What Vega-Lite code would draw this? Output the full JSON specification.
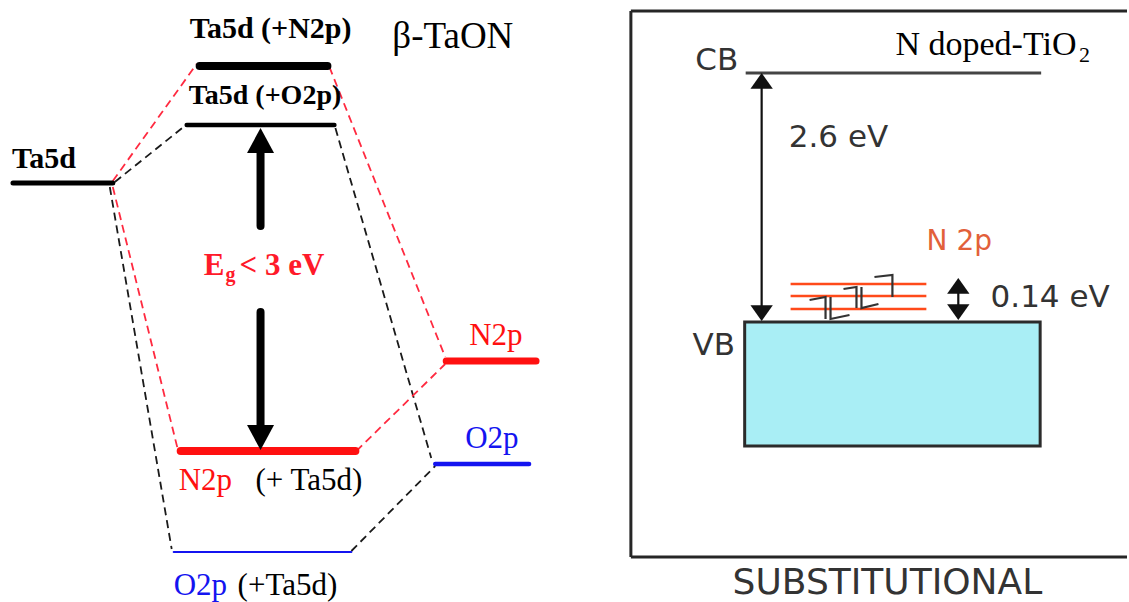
{
  "$schema": "https://vega.github.io/schema/vega-lite/v6.json",
  "width": 1129,
  "height": 602,
  "padding": 0,
  "autosize": {"type": "fit", "contains": "padding"},
  "background": "#ffffff",
  "config": {"view": {"stroke": null}},
  "resolve": {"scale": {"shape": "independent"}},
  "datasets": {
    "levels": [
      {"level": "Ta5d", "species": "Ta5d", "x": 13, "x2": 113, "y": 183},
      {"level": "Ta5d (+N2p)", "species": "Ta5d", "x": 200, "x2": 328, "y": 66},
      {"level": "Ta5d (+O2p)", "species": "Ta5d", "x": 187, "x2": 335, "y": 125},
      {"level": "N2p (+Ta5d)", "species": "N2p", "x": 181, "x2": 356, "y": 451},
      {"level": "O2p (+Ta5d)", "species": "O2p", "x": 174, "x2": 352, "y": 552},
      {"level": "N2p", "species": "N2p", "x": 447, "x2": 537, "y": 361},
      {"level": "O2p", "species": "O2p", "x": 436, "x2": 530, "y": 464}
    ],
    "links": [
      {"species": "N-mix", "x": 113, "y": 181, "x2": 197, "y2": 64},
      {"species": "O-mix", "x": 115, "y": 182, "x2": 185, "y2": 126},
      {"species": "N-mix", "x": 113, "y": 187, "x2": 178, "y2": 449},
      {"species": "O-mix", "x": 110, "y": 187, "x2": 172, "y2": 549},
      {"species": "N-mix", "x": 330, "y": 67, "x2": 446, "y2": 357},
      {"species": "O-mix", "x": 336, "y": 128, "x2": 432, "y2": 458},
      {"species": "N-mix", "x": 357, "y": 451, "x2": 446, "y2": 364},
      {"species": "O-mix", "x": 352, "y": 551, "x2": 436, "y2": 466}
    ],
    "gapShafts": [
      {"x": 261, "y": 226, "y2": 146},
      {"x": 261, "y": 312, "y2": 432}
    ],
    "gapHeads": [
      {"x": 261, "y": 128, "dir": "up"},
      {"x": 261, "y": 450, "dir": "down"}
    ],
    "thinShafts": [
      {"x": 763, "y": 76, "y2": 318},
      {"x": 960, "y": 282, "y2": 316}
    ],
    "thinHeads": [
      {"x": 763, "y": 73, "dir": "up"},
      {"x": 763, "y": 321, "dir": "down"},
      {"x": 960, "y": 278, "dir": "up"},
      {"x": 960, "y": 320, "dir": "down"}
    ],
    "frame": [
      {"x": 632, "y": 11, "x2": 1129, "y2": 11},
      {"x": 632, "y": 11, "x2": 632, "y2": 557},
      {"x": 632, "y": 557, "x2": 1129, "y2": 557}
    ],
    "cb": [{"x": 747, "x2": 1043, "y": 73}],
    "dopant": [
      {"x": 792, "x2": 928, "y": 284},
      {"x": 792, "x2": 928, "y": 296},
      {"x": 792, "x2": 928, "y": 309}
    ],
    "vb": [{"x": 746, "x2": 1042, "y": 322, "y2": 446}],
    "spins": [
      {"seg": "s1", "i": 0, "x": 811, "y": 300},
      {"seg": "s1", "i": 1, "x": 827, "y": 297},
      {"seg": "s1", "i": 2, "x": 827, "y": 319},
      {"seg": "s2", "i": 0, "x": 832, "y": 297},
      {"seg": "s2", "i": 1, "x": 832, "y": 319},
      {"seg": "s2", "i": 2, "x": 851, "y": 315},
      {"seg": "s3", "i": 0, "x": 845, "y": 289},
      {"seg": "s3", "i": 1, "x": 858, "y": 287},
      {"seg": "s3", "i": 2, "x": 858, "y": 308},
      {"seg": "s4", "i": 0, "x": 863, "y": 287},
      {"seg": "s4", "i": 1, "x": 863, "y": 308},
      {"seg": "s4", "i": 2, "x": 880, "y": 304},
      {"seg": "s5", "i": 0, "x": 876, "y": 277},
      {"seg": "s5", "i": 1, "x": 894, "y": 275},
      {"seg": "s5", "i": 2, "x": 894, "y": 297}
    ],
    "serifBold": [
      {"text": "Ta5d (+N2p)", "x": 190, "y": 38, "kind": "level", "species": "Ta5d"},
      {"text": "Ta5d (+O2p)", "x": 189, "y": 104, "kind": "level small", "species": "Ta5d"},
      {"text": "Ta5d", "x": 12, "y": 168, "kind": "level", "species": "Ta5d"},
      {"text": "E", "x": 204, "y": 275, "kind": "gap", "species": "gap"},
      {"text": "g", "x": 226, "y": 281, "kind": "gap sub", "species": "gap"},
      {"text": "< 3 eV", "x": 240, "y": 275, "kind": "gap", "species": "gap"}
    ],
    "serif": [
      {"text": "β-TaON", "x": 393, "y": 48, "kind": "title left", "species": "material"},
      {"text": "N doped-TiO", "x": 897, "y": 55, "kind": "title right", "species": "material"},
      {"text": "2", "x": 1081, "y": 62, "kind": "subscript", "species": "material"},
      {"text": "N2p", "x": 179, "y": 490, "kind": "orbital", "species": "N2p"},
      {"text": "(+ Ta5d)", "x": 256, "y": 490, "kind": "orbital", "species": "Ta5d"},
      {"text": "O2p", "x": 174, "y": 595, "kind": "orbital", "species": "O2p"},
      {"text": "(+Ta5d)", "x": 238, "y": 595, "kind": "orbital", "species": "Ta5d"},
      {"text": "N2p", "x": 470, "y": 345, "kind": "orbital", "species": "N2p"},
      {"text": "O2p", "x": 466, "y": 448, "kind": "orbital", "species": "O2p"}
    ],
    "sans": [
      {"text": "CB", "x": 718, "y": 70, "kind": "band", "species": "band"},
      {"text": "2.6 eV", "x": 840, "y": 147, "kind": "band", "species": "band"},
      {"text": "0.14 eV", "x": 1052, "y": 307, "kind": "band", "species": "band"},
      {"text": "VB", "x": 715, "y": 355, "kind": "band", "species": "band"},
      {"text": "N 2p", "x": 961, "y": 250, "kind": "dopant", "species": "dopant"},
      {"text": "SUBSTITUTIONAL", "x": 889, "y": 594, "kind": "scheme", "species": "band"}
    ]
  },
  "layer": [
    {
      "data": {"name": "frame"},
      "mark": {"type": "rule", "color": "#262626", "strokeWidth": 3},
      "encoding": {
        "x": {"field": "x", "type": "quantitative", "scale": {"domain": [0, 1129], "nice": false, "zero": false}, "axis": null},
        "y": {"field": "y", "type": "quantitative", "scale": {"domain": [0, 602], "nice": false, "zero": false, "reverse": true}, "axis": null},
        "x2": {"field": "x2"},
        "y2": {"field": "y2"}
      }
    },
    {
      "data": {"name": "vb"},
      "mark": {"type": "rect", "fill": "#a9eef5", "stroke": "#2b2b2b", "strokeWidth": 3},
      "encoding": {
        "x": {"field": "x", "type": "quantitative", "scale": {"domain": [0, 1129], "nice": false, "zero": false}, "axis": null},
        "y": {"field": "y", "type": "quantitative", "scale": {"domain": [0, 602], "nice": false, "zero": false, "reverse": true}, "axis": null},
        "x2": {"field": "x2"},
        "y2": {"field": "y2"}
      }
    },
    {
      "data": {"name": "cb"},
      "mark": {"type": "rule", "color": "#444444", "strokeWidth": 3},
      "encoding": {
        "x": {"field": "x", "type": "quantitative", "scale": {"domain": [0, 1129], "nice": false, "zero": false}, "axis": null},
        "y": {"field": "y", "type": "quantitative", "scale": {"domain": [0, 602], "nice": false, "zero": false, "reverse": true}, "axis": null},
        "x2": {"field": "x2"}
      }
    },
    {
      "data": {"name": "dopant"},
      "mark": {"type": "rule", "color": "#ff4a1a", "strokeWidth": 2.5},
      "encoding": {
        "x": {"field": "x", "type": "quantitative", "scale": {"domain": [0, 1129], "nice": false, "zero": false}, "axis": null},
        "y": {"field": "y", "type": "quantitative", "scale": {"domain": [0, 602], "nice": false, "zero": false, "reverse": true}, "axis": null},
        "x2": {"field": "x2"}
      }
    },
    {
      "data": {"name": "spins"},
      "mark": {"type": "line", "color": "#333333", "strokeWidth": 2.2},
      "encoding": {
        "x": {"field": "x", "type": "quantitative", "scale": {"domain": [0, 1129], "nice": false, "zero": false}, "axis": null},
        "y": {"field": "y", "type": "quantitative", "scale": {"domain": [0, 602], "nice": false, "zero": false, "reverse": true}, "axis": null},
        "detail": {"field": "seg", "type": "nominal"},
        "order": {"field": "i", "type": "quantitative"}
      }
    },
    {
      "data": {"name": "thinShafts"},
      "mark": {"type": "rule", "color": "#111111", "strokeWidth": 2.2},
      "encoding": {
        "x": {"field": "x", "type": "quantitative", "scale": {"domain": [0, 1129], "nice": false, "zero": false}, "axis": null},
        "y": {"field": "y", "type": "quantitative", "scale": {"domain": [0, 602], "nice": false, "zero": false, "reverse": true}, "axis": null},
        "y2": {"field": "y2"}
      }
    },
    {
      "data": {"name": "thinHeads"},
      "mark": {"type": "point", "filled": true, "color": "#111111", "opacity": 1, "size": 500},
      "encoding": {
        "x": {"field": "x", "type": "quantitative", "scale": {"domain": [0, 1129], "nice": false, "zero": false}, "axis": null},
        "y": {"field": "y", "type": "quantitative", "scale": {"domain": [0, 602], "nice": false, "zero": false, "reverse": true}, "axis": null},
        "shape": {"field": "dir", "type": "nominal", "scale": {"domain": ["up", "down"], "range": ["M0,0L1,1.4L-1,1.4Z", "M0,0L1,-1.4L-1,-1.4Z"]}, "legend": null}
      }
    },
    {
      "data": {"name": "links"},
      "mark": {"type": "rule", "strokeWidth": 1.8, "strokeDash": [8, 5]},
      "encoding": {
        "x": {"field": "x", "type": "quantitative", "scale": {"domain": [0, 1129], "nice": false, "zero": false}, "axis": null},
        "y": {"field": "y", "type": "quantitative", "scale": {"domain": [0, 602], "nice": false, "zero": false, "reverse": true}, "axis": null},
        "x2": {"field": "x2"},
        "y2": {"field": "y2"},
        "color": {"field": "species", "type": "nominal", "scale": {"domain": ["Ta5d", "N2p", "O2p", "gap", "material", "band", "dopant", "N-mix", "O-mix"], "range": ["#000000", "#ff1010", "#1414f0", "#ff1a2a", "#000000", "#333333", "#e2603a", "#ff2a40", "#1a1a1a"]}, "legend": null}
      }
    },
    {
      "data": {"name": "levels"},
      "mark": {"type": "rule", "strokeCap": "round"},
      "encoding": {
        "x": {"field": "x", "type": "quantitative", "scale": {"domain": [0, 1129], "nice": false, "zero": false}, "axis": null},
        "y": {"field": "y", "type": "quantitative", "scale": {"domain": [0, 602], "nice": false, "zero": false, "reverse": true}, "axis": null},
        "x2": {"field": "x2"},
        "color": {"field": "species", "type": "nominal", "scale": {"domain": ["Ta5d", "N2p", "O2p", "gap", "material", "band", "dopant", "N-mix", "O-mix"], "range": ["#000000", "#ff1010", "#1414f0", "#ff1a2a", "#000000", "#333333", "#e2603a", "#ff2a40", "#1a1a1a"]}, "legend": null},
        "strokeWidth": {"field": "level", "type": "nominal", "scale": {"type": "ordinal", "domain": ["Ta5d", "Ta5d (+N2p)", "Ta5d (+O2p)", "N2p (+Ta5d)", "O2p (+Ta5d)", "N2p", "O2p"], "range": [5, 8, 4.5, 8, 2, 7, 4.5]}, "legend": null}
      }
    },
    {
      "data": {"name": "gapShafts"},
      "mark": {"type": "rule", "color": "#000000", "strokeWidth": 8, "strokeCap": "round"},
      "encoding": {
        "x": {"field": "x", "type": "quantitative", "scale": {"domain": [0, 1129], "nice": false, "zero": false}, "axis": null},
        "y": {"field": "y", "type": "quantitative", "scale": {"domain": [0, 602], "nice": false, "zero": false, "reverse": true}, "axis": null},
        "y2": {"field": "y2"}
      }
    },
    {
      "data": {"name": "gapHeads"},
      "mark": {"type": "point", "filled": true, "color": "#000000", "opacity": 1, "size": 729},
      "encoding": {
        "x": {"field": "x", "type": "quantitative", "scale": {"domain": [0, 1129], "nice": false, "zero": false}, "axis": null},
        "y": {"field": "y", "type": "quantitative", "scale": {"domain": [0, 602], "nice": false, "zero": false, "reverse": true}, "axis": null},
        "shape": {"field": "dir", "type": "nominal", "scale": {"domain": ["up", "down"], "range": ["M0,0L1,1.85L-1,1.85Z", "M0,0L1,-1.85L-1,-1.85Z"]}, "legend": null}
      }
    },
    {
      "data": {"name": "serifBold"},
      "mark": {"type": "text", "font": "Liberation Serif", "fontWeight": "bold", "align": "left", "baseline": "alphabetic"},
      "encoding": {
        "x": {"field": "x", "type": "quantitative", "scale": {"domain": [0, 1129], "nice": false, "zero": false}, "axis": null},
        "y": {"field": "y", "type": "quantitative", "scale": {"domain": [0, 602], "nice": false, "zero": false, "reverse": true}, "axis": null},
        "text": {"field": "text"},
        "color": {"field": "species", "type": "nominal", "scale": {"domain": ["Ta5d", "N2p", "O2p", "gap", "material", "band", "dopant", "N-mix", "O-mix"], "range": ["#000000", "#ff1010", "#1414f0", "#ff1a2a", "#000000", "#333333", "#e2603a", "#ff2a40", "#1a1a1a"]}, "legend": null},
        "size": {"field": "kind", "type": "nominal", "scale": {"type": "ordinal", "domain": ["level", "level small", "gap", "gap sub", "title left", "title right", "subscript", "orbital", "band", "dopant", "scheme"], "range": [30, 28, 31, 20, 37, 34, 22, 31, 31, 28, 36]}, "legend": null}
      }
    },
    {
      "data": {"name": "serif"},
      "mark": {"type": "text", "font": "Liberation Serif", "align": "left", "baseline": "alphabetic"},
      "encoding": {
        "x": {"field": "x", "type": "quantitative", "scale": {"domain": [0, 1129], "nice": false, "zero": false}, "axis": null},
        "y": {"field": "y", "type": "quantitative", "scale": {"domain": [0, 602], "nice": false, "zero": false, "reverse": true}, "axis": null},
        "text": {"field": "text"},
        "color": {"field": "species", "type": "nominal", "scale": {"domain": ["Ta5d", "N2p", "O2p", "gap", "material", "band", "dopant", "N-mix", "O-mix"], "range": ["#000000", "#ff1010", "#1414f0", "#ff1a2a", "#000000", "#333333", "#e2603a", "#ff2a40", "#1a1a1a"]}, "legend": null},
        "size": {"field": "kind", "type": "nominal", "scale": {"type": "ordinal", "domain": ["level", "level small", "gap", "gap sub", "title left", "title right", "subscript", "orbital", "band", "dopant", "scheme"], "range": [30, 28, 31, 20, 37, 34, 22, 31, 31, 28, 36]}, "legend": null}
      }
    },
    {
      "data": {"name": "sans"},
      "mark": {"type": "text", "font": "DejaVu Sans", "align": "center", "baseline": "alphabetic"},
      "encoding": {
        "x": {"field": "x", "type": "quantitative", "scale": {"domain": [0, 1129], "nice": false, "zero": false}, "axis": null},
        "y": {"field": "y", "type": "quantitative", "scale": {"domain": [0, 602], "nice": false, "zero": false, "reverse": true}, "axis": null},
        "text": {"field": "text"},
        "color": {"field": "species", "type": "nominal", "scale": {"domain": ["Ta5d", "N2p", "O2p", "gap", "material", "band", "dopant", "N-mix", "O-mix"], "range": ["#000000", "#ff1010", "#1414f0", "#ff1a2a", "#000000", "#333333", "#e2603a", "#ff2a40", "#1a1a1a"]}, "legend": null},
        "size": {"field": "kind", "type": "nominal", "scale": {"type": "ordinal", "domain": ["level", "level small", "gap", "gap sub", "title left", "title right", "subscript", "orbital", "band", "dopant", "scheme"], "range": [30, 28, 31, 20, 37, 34, 22, 31, 31, 28, 36]}, "legend": null}
      }
    }
  ]
}
